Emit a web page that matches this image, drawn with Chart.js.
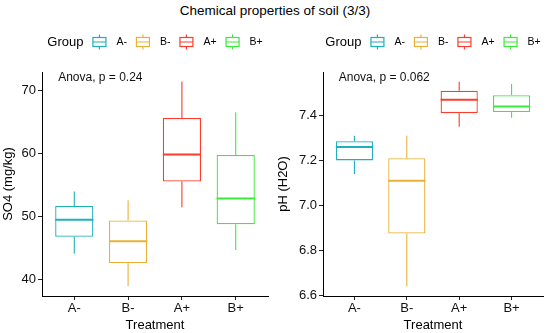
<!DOCTYPE html>
<html>
<head>
<meta charset="utf-8">
<script src="https://cdn.jsdelivr.net/npm/chart.js@4/dist/chart.umd.min.js"></script>
<style>
  body { margin: 0; background: #fff; }
  #wrap { position: relative; width: 550px; height: 333px; overflow: hidden; }
  #title { position: absolute; left: 0; top: 3px; width: 550px; text-align: center;
           font: 13.5px "Liberation Sans", Arial, sans-serif; color: #000; }
  canvas { position: absolute; top: 0; }
</style>
</head>
<body>
<div id="wrap">
  <div id="title">Chemical properties of soil (3/3)</div>
  <canvas id="so4" width="275" height="333" style="left:0"></canvas>
  <canvas id="ph" width="275" height="333" style="left:275px"></canvas>
</div>
<script>
const categories = ['A-', 'B-', 'A+', 'B+'];
const groupColors = ['#1FB0BB', '#E9B237', '#FB3D2E', '#3BEB3B'];

// SO4 (mg/kg): whisker low, Q1, median, Q3, whisker high
const so4Min = [44.0, 38.9, 51.4, 44.6];
const so4Q1 = [46.7, 42.5, 55.5, 48.7];
const so4Median = [49.4, 46.0, 59.8, 52.8];
const so4Q3 = [51.6, 49.3, 65.6, 59.7];
const so4Max = [53.9, 52.5, 71.4, 66.5];
const so4Ticks = [40, 50, 60, 70];

// pH (H2O)
const phMin = [7.14, 6.64, 7.35, 7.39];
const phQ1 = [7.20, 6.875, 7.41, 7.415];
const phMedian = [7.26, 7.11, 7.47, 7.44];
const phQ3 = [7.285, 7.21, 7.51, 7.49];
const phMax = [7.31, 7.31, 7.55, 7.54];
const phTicks = [6.6, 6.8, 7.0, 7.2, 7.4];

const FONT = '"Liberation Sans", Arial, sans-serif';

// whiskers, medians, legend and anova label
const boxPlugin = {
  id: 'boxExtras',
  afterDatasetsDraw(chart, args, opts) {
    const ctx = chart.ctx;
    const y = chart.scales.y;
    const meta = chart.getDatasetMeta(0);
    ctx.save();
    meta.data.forEach((el, i) => {
      const c = groupColors[i];
      const half = el.width / 2;
      ctx.strokeStyle = c;
      ctx.lineWidth = 1.1;
      ctx.beginPath();
      ctx.moveTo(el.x, y.getPixelForValue(opts.max[i]));
      ctx.lineTo(el.x, y.getPixelForValue(opts.q3[i]));
      ctx.moveTo(el.x, y.getPixelForValue(opts.q1[i]));
      ctx.lineTo(el.x, y.getPixelForValue(opts.min[i]));
      ctx.stroke();
      ctx.lineWidth = 2;
      ctx.beginPath();
      const ym = y.getPixelForValue(opts.median[i]);
      ctx.moveTo(el.x - half, ym);
      ctx.lineTo(el.x + half, ym);
      ctx.stroke();
    });
    ctx.restore();
  },
  afterDraw(chart, args, opts) {
    const ctx = chart.ctx;
    const area = chart.chartArea;
    ctx.save();
    // anova label
    ctx.fillStyle = '#111';
    ctx.font = '12px ' + FONT;
    ctx.textBaseline = 'middle';
    ctx.textAlign = 'left';
    ctx.fillText(opts.anova, chart.scales.x.getPixelForValue(0.7), area.top + 6);

    // legend
    const ly = 42;
    ctx.font = '13px ' + FONT;
    const gw = ctx.measureText('Group').width;
    ctx.font = '10.5px ' + FONT;
    const tw = categories.map(c => ctx.measureText(c).width);
    const iconW = 14, gapIcon = 10, gapItem = 9;
    let total = gw + gapItem;
    tw.forEach((w, i) => { total += iconW + gapIcon + w + (i < 3 ? gapItem : 0); });
    let x = (area.left + area.right) / 2 - total / 2;
    ctx.fillStyle = '#000';
    ctx.font = '13px ' + FONT;
    ctx.fillText('Group', x, ly);
    x += gw + gapItem;
    ctx.font = '10.5px ' + FONT;
    categories.forEach((c, i) => {
      ctx.strokeStyle = groupColors[i];
      ctx.lineWidth = 1.2;
      ctx.strokeRect(x + 0.5, ly - 4.5, iconW - 1, 9);
      ctx.beginPath();
      ctx.moveTo(x + 0.5, ly);
      ctx.lineTo(x + iconW - 0.5, ly);
      ctx.moveTo(x + iconW / 2, ly - 4.5);
      ctx.lineTo(x + iconW / 2, ly - 7.5);
      ctx.moveTo(x + iconW / 2, ly + 4.5);
      ctx.lineTo(x + iconW / 2, ly + 7.5);
      ctx.stroke();
      x += iconW + gapIcon;
      ctx.fillStyle = '#000';
      ctx.fillText(c, x, ly + 0.5);
      x += tw[i] + gapItem;
    });
    ctx.restore();
  }
};

function makeBox(id, q1, median, q3, min, max, ticks, yMin, yMax, yTitle, anova, yWidth, digits) {
  return new Chart(document.getElementById(id), {
    type: 'bar',
    data: {
      datasets: [{
        data: categories.map((c, i) => ({ x: i + 1, y: [q1[i], q3[i]] })),
        backgroundColor: '#ffffff',
        borderColor: groupColors,
        borderWidth: 1.3,
        borderSkipped: false,
        barPercentage: 0.71,
        categoryPercentage: 1
      }]
    },
    options: {
      responsive: false,
      animation: false,
      layout: { padding: { top: 72, right: 7, left: 0, bottom: 0 } },
      plugins: {
        legend: { display: false },
        tooltip: { enabled: false },
        boxExtras: { q1, median, q3, min, max, anova }
      },
      scales: {
        x: {
          type: 'linear',
          min: 0.4,
          max: 4.6,
          offset: false,
          afterBuildTicks: s => { s.ticks = categories.map((c, i) => ({ value: i + 1 })); },
          afterFit: s => { s.height = 37; },
          ticks: {
            callback: v => categories[v - 1],
            font: { size: 13, family: FONT },
            color: '#111',
            padding: 1,
            maxRotation: 0,
            autoSkip: false
          },
          grid: { offset: false, drawOnChartArea: false, drawTicks: true, tickLength: 4, color: '#222' },
          border: { display: true, color: '#000', width: 1 },
          title: { display: true, text: 'Treatment', font: { size: 13, family: FONT }, color: '#000', padding: { top: 0, bottom: 0 } }
        },
        y: {
          type: 'linear',
          min: yMin,
          max: yMax,
          afterBuildTicks: s => { s.ticks = ticks.map(v => ({ value: v })); },
          afterFit: s => { s.width = yWidth; },
          ticks: {
            callback: v => v.toFixed(digits),
            font: { size: 13, family: FONT },
            color: '#111',
            padding: 2
          },
          grid: { drawOnChartArea: false, drawTicks: true, tickLength: 4, color: '#222' },
          border: { display: true, color: '#000', width: 1 },
          title: { display: true, text: yTitle, font: { size: 13, family: FONT }, color: '#000', padding: { top: 1, bottom: 0 } }
        }
      }
    },
    plugins: [boxPlugin]
  });
}

makeBox('so4', so4Q1, so4Median, so4Q3, so4Min, so4Max, so4Ticks, 37.3, 72.9, 'SO4 (mg/kg)', 'Anova, p = 0.24', 42, 0);
makeBox('ph', phQ1, phMedian, phQ3, phMin, phMax, phTicks, 6.597, 7.593, 'pH (H2O)', 'Anova, p = 0.062', 48, 1);
</script>
</body>
</html>
